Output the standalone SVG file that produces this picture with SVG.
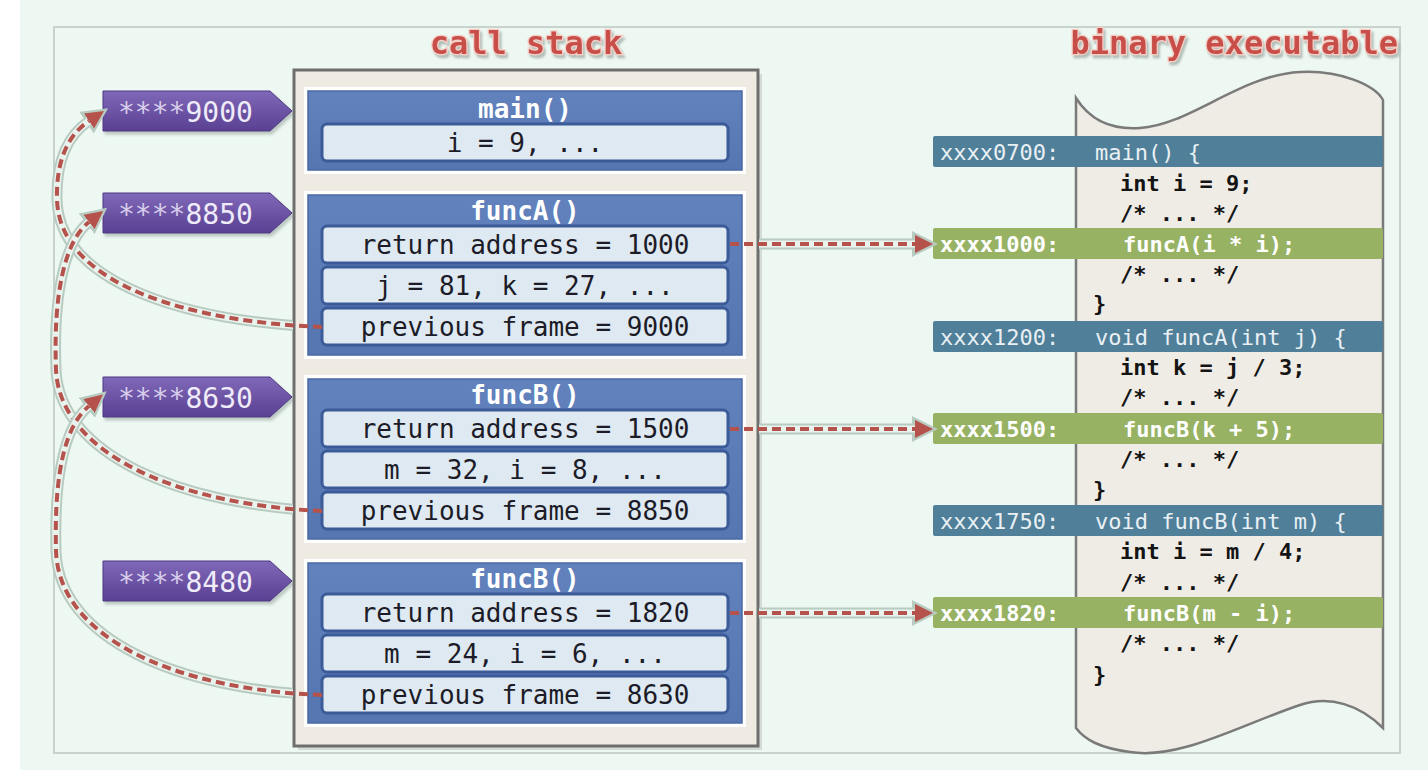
<svg xmlns="http://www.w3.org/2000/svg" width="1428" height="778" viewBox="0 0 1428 778">
<defs>
<style>
.mono{font-family:"DejaVu Sans Mono","Liberation Mono",monospace;}
.title{font-family:"DejaVu Sans Mono","Liberation Mono",monospace;font-size:32px;font-weight:bold;fill:#c8504a;stroke:#f4cfc6;stroke-width:2.5;paint-order:stroke;filter:url(#tsh);}
.fouter{fill:#ffffff;}
.fblue{fill:url(#gblue);stroke:#4a68a4;stroke-width:1.5;}
.slot{fill:#dfe9f1;stroke:#3b5a98;stroke-width:3;}
.ftitle{font-size:26px;font-weight:bold;fill:#ffffff;text-anchor:middle;dominant-baseline:central;}
.stext{font-size:26px;fill:#1c1c28;text-anchor:middle;dominant-baseline:central;}
.tag{fill:url(#gtag);stroke:#4e3784;stroke-width:1;filter:url(#sh);}
.tagtxt{font-size:28px;fill:#efebf8;dominant-baseline:central;}
.ast{fill:#d6cdea;}
.code{font-size:22px;font-weight:bold;fill:#141414;dominant-baseline:central;}
.bbar{fill:#4f7f99;}
.gbar{fill:#97b263;}
.btxt{font-size:22px;fill:#e9f0f4;dominant-baseline:central;}
.gtxt{font-size:22px;font-weight:bold;fill:#ffffff;dominant-baseline:central;}
.halo{fill:none;stroke:#b8cbc0;stroke-width:11;}
.haloin{fill:none;stroke:#e9f3ee;stroke-width:7;}
.dash{fill:none;stroke:#b5524c;stroke-width:4;stroke-dasharray:9 5;}
</style>
<filter id="tsh" x="-10%" y="-30%" width="120%" height="170%">
<feDropShadow dx="2" dy="3" stdDeviation="1.2" flood-color="#8a9691" flood-opacity="0.6"/>
</filter>
<filter id="sh" x="-10%" y="-20%" width="125%" height="150%">
<feDropShadow dx="2" dy="3" stdDeviation="1.5" flood-color="#7d8a84" flood-opacity="0.45"/>
</filter>
<linearGradient id="gtag" x1="0" y1="0" x2="0" y2="1">
<stop offset="0" stop-color="#8068b8"/>
<stop offset="1" stop-color="#5a4092"/>
</linearGradient>
<linearGradient id="gblue" x1="0" y1="0" x2="0" y2="1">
<stop offset="0" stop-color="#6182bd"/>
<stop offset="1" stop-color="#5676b1"/>
</linearGradient>
<marker id="ah" markerUnits="userSpaceOnUse" viewBox="0 0 18 18" markerWidth="18" markerHeight="18" refX="0" refY="9" orient="auto">
<path d="M0,0 L18,9 L0,18 Z" fill="#b5524c"/>
</marker>
<marker id="ahh" markerUnits="userSpaceOnUse" viewBox="-3 -4 26 26" markerWidth="26" markerHeight="26" refX="0" refY="9" orient="auto">
<path d="M-3,-4 L23,9 L-3,22 Z" fill="#b8cbc0"/>
</marker>
<clipPath id="cl"><rect x="0" y="0" width="293" height="778"/></clipPath>
<clipPath id="cr"><rect x="759" y="0" width="669" height="778"/></clipPath>
</defs>

<rect x="0" y="0" width="1428" height="778" fill="#ffffff"/>
<rect x="20" y="0" width="1408" height="770" fill="#eef8f2"/>
<rect x="54" y="27" width="1346" height="726" fill="#eef8f2" stroke="#c9d3ce" stroke-width="2"/>

<g id="titles">
<text class="title" x="526" y="43" text-anchor="middle" dominant-baseline="central">call stack</text>
<text class="title" x="1398" y="43" text-anchor="end" dominant-baseline="central">binary executable</text>
</g>

<g id="stack">
<rect x="298" y="74" width="464" height="676" fill="#c4c9c4" opacity="0.6"/>
<rect x="294" y="70" width="464" height="676" fill="#efebe3" stroke="#6e6e6e" stroke-width="3"/>
</g>

<g id="frame-main">
<rect class="fouter" x="304" y="87" width="442" height="87"/>
<rect class="fblue" x="308" y="91" width="434" height="79"/>
<text class="mono ftitle" x="525" y="109">main()</text>
<rect class="slot" x="322" y="124" width="406" height="37" rx="5"/>
<text class="mono stext" x="525" y="143">i = 9, ...</text>
</g>

<g id="frame-funcA">
<rect class="fouter" x="304" y="191" width="442" height="168"/>
<rect class="fblue" x="308" y="195" width="434" height="160"/>
<text class="mono ftitle" x="525" y="211">funcA()</text>
<rect class="slot" x="322" y="226" width="406" height="37" rx="5"/>
<text class="mono stext" x="525" y="245">return address = 1000</text>
<rect class="slot" x="322" y="267" width="406" height="37" rx="5"/>
<text class="mono stext" x="525" y="286">j = 81, k = 27, ...</text>
<rect class="slot" x="322" y="308" width="406" height="37" rx="5"/>
<text class="mono stext" x="525" y="327">previous frame = 9000</text>
</g>

<g id="frame-funcB1">
<rect class="fouter" x="304" y="375" width="442" height="168"/>
<rect class="fblue" x="308" y="379" width="434" height="160"/>
<text class="mono ftitle" x="525" y="395">funcB()</text>
<rect class="slot" x="322" y="410" width="406" height="37" rx="5"/>
<text class="mono stext" x="525" y="429">return address = 1500</text>
<rect class="slot" x="322" y="451" width="406" height="37" rx="5"/>
<text class="mono stext" x="525" y="470">m = 32, i = 8, ...</text>
<rect class="slot" x="322" y="492" width="406" height="37" rx="5"/>
<text class="mono stext" x="525" y="511">previous frame = 8850</text>
</g>

<g id="frame-funcB2">
<rect class="fouter" x="304" y="559" width="442" height="168"/>
<rect class="fblue" x="308" y="563" width="434" height="160"/>
<text class="mono ftitle" x="525" y="579">funcB()</text>
<rect class="slot" x="322" y="594" width="406" height="37" rx="5"/>
<text class="mono stext" x="525" y="613">return address = 1820</text>
<rect class="slot" x="322" y="635" width="406" height="37" rx="5"/>
<text class="mono stext" x="525" y="654">m = 24, i = 6, ...</text>
<rect class="slot" x="322" y="676" width="406" height="37" rx="5"/>
<text class="mono stext" x="525" y="695">previous frame = 8630</text>
</g>

<g id="tag-9000">
<path class="tag" d="M103,91 L270,91 L292,111 L270,131 L103,131 Z"/>
<text class="mono tagtxt" x="118" y="112"><tspan class="ast">****</tspan>9000</text>
</g>
<g id="tag-8850">
<path class="tag" d="M103,193 L270,193 L292,213 L270,233 L103,233 Z"/>
<text class="mono tagtxt" x="118" y="214"><tspan class="ast">****</tspan>8850</text>
</g>
<g id="tag-8630">
<path class="tag" d="M103,377 L270,377 L292,397 L270,417 L103,417 Z"/>
<text class="mono tagtxt" x="118" y="398"><tspan class="ast">****</tspan>8630</text>
</g>
<g id="tag-8480">
<path class="tag" d="M103,561 L270,561 L292,581 L270,601 L103,601 Z"/>
<text class="mono tagtxt" x="118" y="582"><tspan class="ast">****</tspan>8480</text>
</g>

<g id="binary">
<path d="M1076,98 C1090,120 1110,130 1140,128 C1190,125 1240,75 1300,72 C1340,70 1375,85 1383,100 L1383,728 C1360,705 1330,695 1300,705 C1240,725 1180,760 1130,752 C1100,748 1085,740 1076,728 Z" fill="#efebe5" stroke="#7a7a7a" stroke-width="2.5"/>
<rect class="bbar" x="933" y="136" width="450" height="31" rx="2"/>
<text class="mono btxt" x="940" y="152">xxxx0700:</text>
<text class="mono btxt" x="1095" y="152">main() {</text>
<text class="mono code" x="1120" y="183">int i = 9;</text>
<text class="mono code" x="1120" y="213">/* ... */</text>
<rect class="gbar" x="933" y="228" width="450" height="31" rx="2"/>
<text class="mono gtxt" x="940" y="244">xxxx1000:</text>
<text class="mono gtxt" x="1123" y="244">funcA(i * i);</text>
<text class="mono code" x="1120" y="274">/* ... */</text>
<text class="mono code" x="1093" y="303">}</text>
<rect class="bbar" x="933" y="321" width="450" height="31" rx="2"/>
<text class="mono btxt" x="940" y="337">xxxx1200:</text>
<text class="mono btxt" x="1095" y="337">void funcA(int j) {</text>
<text class="mono code" x="1120" y="367">int k = j / 3;</text>
<text class="mono code" x="1120" y="397">/* ... */</text>
<rect class="gbar" x="933" y="413" width="450" height="31" rx="2"/>
<text class="mono gtxt" x="940" y="429">xxxx1500:</text>
<text class="mono gtxt" x="1123" y="429">funcB(k + 5);</text>
<text class="mono code" x="1120" y="459">/* ... */</text>
<text class="mono code" x="1093" y="489">}</text>
<rect class="bbar" x="933" y="505" width="450" height="31" rx="2"/>
<text class="mono btxt" x="940" y="521">xxxx1750:</text>
<text class="mono btxt" x="1095" y="521">void funcB(int m) {</text>
<text class="mono code" x="1120" y="551">int i = m / 4;</text>
<text class="mono code" x="1120" y="582">/* ... */</text>
<rect class="gbar" x="933" y="597" width="450" height="31" rx="2"/>
<text class="mono gtxt" x="940" y="613">xxxx1820:</text>
<text class="mono gtxt" x="1123" y="613">funcB(m - i);</text>
<text class="mono code" x="1120" y="643">/* ... */</text>
<text class="mono code" x="1093" y="674">}</text>
</g>

<g id="connectors">
<g clip-path="url(#cr)">
<path class="halo" d="M740,244 H915" marker-end="url(#ahh)"/>
<path class="haloin" d="M740,244 H915"/>
<path class="halo" d="M740,429 H915" marker-end="url(#ahh)"/>
<path class="haloin" d="M740,429 H915"/>
<path class="halo" d="M740,613 H915" marker-end="url(#ahh)"/>
<path class="haloin" d="M740,613 H915"/>
</g>
<path class="dash" d="M730,244 H915" marker-end="url(#ah)"/>
<path class="dash" d="M730,429 H915" marker-end="url(#ah)"/>
<path class="dash" d="M730,613 H915" marker-end="url(#ah)"/>

<g clip-path="url(#cl)">
<path class="halo" d="M322,327 C190,322 60,285 57,200 C56,160 68,135 89,121" marker-end="url(#ahh)"/>
<path class="haloin" d="M322,327 C190,322 60,285 57,200 C56,160 68,135 89,121"/>
</g>
<path class="dash" d="M322,327 C190,322 60,285 57,200 C56,160 68,135 89,121" marker-end="url(#ah)"/>

<g clip-path="url(#cl)">
<path class="halo" d="M322,511 C180,505 60,455 56,370 C53,290 66,240 89,222" marker-end="url(#ahh)"/>
<path class="haloin" d="M322,511 C180,505 60,455 56,370 C53,290 66,240 89,222"/>
</g>
<path class="dash" d="M322,511 C180,505 60,455 56,370 C53,290 66,240 89,222" marker-end="url(#ah)"/>

<g clip-path="url(#cl)">
<path class="halo" d="M322,695 C180,690 58,640 56,550 C54,470 66,425 89,406" marker-end="url(#ahh)"/>
<path class="haloin" d="M322,695 C180,690 58,640 56,550 C54,470 66,425 89,406"/>
</g>
<path class="dash" d="M322,695 C180,690 58,640 56,550 C54,470 66,425 89,406" marker-end="url(#ah)"/>
</g>
</svg>
